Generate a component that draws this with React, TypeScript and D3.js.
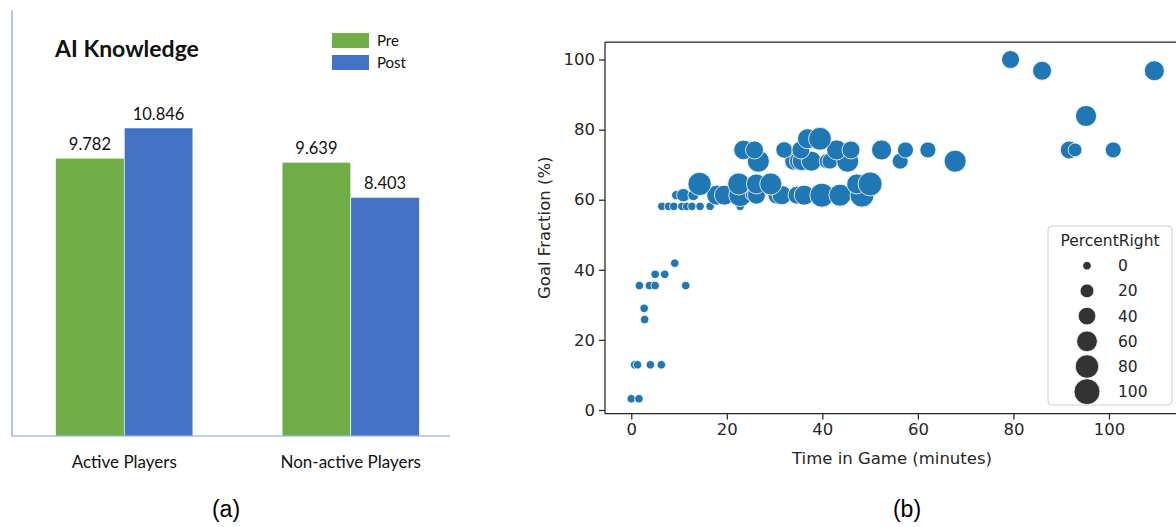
import * as d3 from "d3";
import { useEffect, useRef } from "react";

// panel (a) - bar chart
const groups = ["Active Players", "Non-active Players"];
const phases = ["Pre", "Post"];
const preScores = [9.782, 9.639];
const postScores = [10.846, 8.403];
const phaseColors = ["#70AD47", "#4472C4"];

// panel (b) - scatter, one entry per player
const timeInGame = [
  0, 1.6, 0.7, 1.3, 4.0, 6.3, 2.7, 2.8, 1.7, 3.8, 5.0, 11.4, 5.0, 7.0, 9.1,
  6.4, 7.8, 8.9, 10.6, 11.6, 12.7, 14.4, 16.5, 22.8,
  9.4, 10.9, 13.0, 17.9, 19.5, 22.8, 24.9, 26.2, 30.5, 31.5, 34.7, 35.2, 36.2, 39.9, 43.7, 48.3,
  14.3, 22.5, 26.2, 29.2, 47.2, 50.0,
  26.6, 34.0, 35.0, 35.7, 37.7, 40.9, 41.6, 45.3, 56.3, 67.8,
  23.5, 25.8, 32.0, 35.5, 43.0, 46.0, 52.4, 57.4, 62.1, 91.7, 92.9, 100.9,
  36.9, 39.5, 95.2, 86.0, 109.5, 79.4,
];
const goalFraction = [
  3.2, 3.2, 12.9, 12.9, 12.9, 12.9, 29.0, 25.8, 35.5, 35.5, 35.5, 35.5, 38.7, 38.7, 41.9,
  58.1, 58.1, 58.1, 58.1, 58.1, 58.1, 58.1, 58.1, 58.1,
  61.3, 61.3, 61.3, 61.3, 61.3, 61.3, 61.3, 61.3, 61.3, 61.3, 61.3, 61.3, 61.3, 61.3, 61.3, 61.3,
  64.5, 64.5, 64.5, 64.5, 64.5, 64.5,
  71.0, 71.0, 71.0, 71.0, 71.0, 71.0, 71.0, 71.0, 71.0, 71.0,
  74.2, 74.2, 74.2, 74.2, 74.2, 74.2, 74.2, 74.2, 74.2, 74.2, 74.2, 74.2,
  77.4, 77.4, 83.9, 96.8, 96.8, 100,
];
const percentRight = [
  0, 0, 0, 0, 0, 0, 0, 0, 0, 0, 0, 0, 0, 0, 0,
  0, 0, 0, 0, 0, 0, 0, 0, 0,
  2, 18, 8, 55, 55, 75, 4, 42, 42, 50, 42, 4, 55, 84, 69, 84,
  79, 69, 55, 69, 55, 84,
  69, 42, 42, 48, 55, 25, 30, 69, 31, 69,
  52, 42, 34, 42, 55, 42, 55, 31, 31, 42, 20, 31,
  55, 75, 62, 48, 55, 42,
];
const xTicks = [0, 20, 40, 60, 80, 100];
const yTicks = [0, 20, 40, 60, 80, 100];
const sizeLegend = [0, 20, 40, 60, 80, 100];

const W = 1176;
const H = 527;

const App = () => {
  const ref = useRef<SVGSVGElement | null>(null);

  useEffect(() => {
    const svg = d3.select(ref.current);
    svg.selectAll("*").remove();

    // ---------- (a) bars ----------
    const calibri = "Lato, 'Open Sans', sans-serif";
    const x0 = d3.scaleBand<string>().domain(groups).range([11, 464]);
    const x1 = d3
      .scaleBand<string>()
      .domain(phases)
      .range([0, x0.bandwidth()])
      .paddingInner(0)
      .paddingOuter(0.65);
    const yBar = d3.scaleLinear().domain([0, 15]).range([436, 10]);

    const a = svg.append("g");
    const rows = groups.map((g, i) => ({ group: g, values: [preScores[i], postScores[i]] }));

    const grp = a
      .selectAll("g.grp")
      .data(rows)
      .enter()
      .append("g")
      .attr("transform", (d) => `translate(${x0(d.group)},0)`);

    grp
      .selectAll("rect")
      .data((d) => d.values.map((v, j) => ({ phase: phases[j], v, j })))
      .enter()
      .append("rect")
      .attr("x", (d) => x1(d.phase)!)
      .attr("y", (d) => yBar(d.v))
      .attr("width", x1.bandwidth())
      .attr("height", (d) => yBar(0) - yBar(d.v))
      .style("fill", (d) => phaseColors[d.j])
      .style("stroke", "#ffffff")
      .style("stroke-width", 0.6);

    grp
      .selectAll("text")
      .data((d) => d.values.map((v, j) => ({ phase: phases[j], v })))
      .enter()
      .append("text")
      .attr("x", (d) => x1(d.phase)! + x1.bandwidth() / 2)
      .attr("y", (d) => yBar(d.v) - 8)
      .attr("text-anchor", "middle")
      .style("font-family", calibri)
      .style("font-size", "16.5px")
      .style("fill", "#111")
      .text((d) => d.v.toFixed(3));

    // axis lines
    a.append("line")
      .attr("x1", 12).attr("x2", 12)
      .attr("y1", yBar(15)).attr("y2", yBar(0))
      .style("stroke", "#7d9fdc").style("stroke-width", 1.2);
    a.append("line")
      .attr("x1", 12).attr("x2", 450)
      .attr("y1", yBar(0)).attr("y2", yBar(0))
      .style("stroke", "#7d9fdc").style("stroke-width", 1.2);

    a.selectAll("text.cat")
      .data(groups)
      .enter()
      .append("text")
      .attr("class", "cat")
      .attr("x", (d) => x0(d)! + x0.bandwidth() / 2)
      .attr("y", 468)
      .attr("text-anchor", "middle")
      .style("font-family", calibri)
      .style("font-size", "17px")
      .style("fill", "#111")
      .text((d) => d);

    a.append("text")
      .attr("x", 55)
      .attr("y", 57)
      .style("font-family", calibri)
      .style("font-weight", "bold")
      .style("font-size", "23px")
      .style("fill", "#111")
      .text("AI Knowledge");

    // legend
    phases.forEach((p, i) => {
      a.append("rect")
        .attr("x", 332).attr("y", 33 + i * 22)
        .attr("width", 37).attr("height", 15)
        .style("fill", phaseColors[i]);
      a.append("text")
        .attr("x", 377).attr("y", 46 + i * 22)
        .style("font-family", calibri)
        .style("font-size", "15px")
        .style("fill", "#111")
        .text(p);
    });

    a.append("text")
      .attr("x", 226).attr("y", 517)
      .attr("text-anchor", "middle")
      .style("font-family", "'Liberation Sans', Arial, sans-serif")
      .style("font-size", "23px")
      .text("(a)");

    // ---------- (b) scatter ----------
    const dejavu = "'DejaVu Sans', sans-serif";
    const ink = "#262626";
    const xs = d3.scaleLinear().domain([-5.5, 115.5]).range([605, 1183]);
    const ys = d3.scaleLinear().domain([-1, 105]).range([413.5, 42]);
    const area = d3.scaleLinear().domain([0, 100]).range([18, 168]);
    const rad = (v: number) => Math.sqrt(area(v));

    const b = svg.append("g");
    const pts = timeInGame.map((t, i) => ({ t, g: goalFraction[i], p: percentRight[i] }));

    b.selectAll("circle.pt")
      .data(pts)
      .enter()
      .append("circle")
      .attr("class", "pt")
      .attr("cx", (d) => xs(d.t))
      .attr("cy", (d) => ys(d.g))
      .attr("r", (d) => rad(d.p))
      .style("fill", "#1f77b4")
      .style("stroke", "#ffffff")
      .style("stroke-width", 0.8);

    // spines
    const [xl, xr] = xs.range();
    const [yb, yt] = ys.range();
    b.append("path")
      .attr("d", `M${xl},${yt}H${xr}M${xl},${yt}V${yb}H${xr}`)
      .style("fill", "none")
      .style("stroke", ink)
      .style("stroke-width", 1.25);

    const xAxis = d3.axisBottom(xs).tickValues(xTicks).tickSize(6).tickPadding(4);
    const gx = b.append("g").attr("transform", `translate(0,${yb})`).call(xAxis);
    const yAxis = d3.axisLeft(ys).tickValues(yTicks).tickSize(6).tickPadding(4);
    const gy = b.append("g").attr("transform", `translate(${xl},0)`).call(yAxis);
    [gx, gy].forEach((g) => {
      g.select(".domain").remove();
      g.selectAll("line").style("stroke", ink).style("stroke-width", 1.25);
      g.selectAll("text")
        .style("font-family", dejavu)
        .style("font-size", "16.5px")
        .style("fill", ink);
    });

    b.append("text")
      .attr("x", (xl + xs(115.5)) / 2 - 2)
      .attr("y", 464)
      .attr("text-anchor", "middle")
      .style("font-family", dejavu)
      .style("font-size", "16.5px")
      .style("fill", ink)
      .text("Time in Game (minutes)");

    b.append("text")
      .attr("transform", `translate(550,${(yb + yt) / 2}) rotate(-90)`)
      .attr("text-anchor", "middle")
      .style("font-family", dejavu)
      .style("font-size", "16.5px")
      .style("fill", ink)
      .text("Goal Fraction (%)");

    // size legend
    const lg = b.append("g");
    lg.append("rect")
      .attr("x", 1048).attr("y", 226)
      .attr("width", 124).attr("height", 179)
      .attr("rx", 4)
      .style("fill", "#ffffff").style("fill-opacity", 0.8)
      .style("stroke", "#d0d0d0").style("stroke-width", 1);
    lg.append("text")
      .attr("x", 1110).attr("y", 246)
      .attr("text-anchor", "middle")
      .style("font-family", dejavu)
      .style("font-size", "15.5px")
      .style("fill", ink)
      .text("PercentRight");
    const item = lg
      .selectAll("g.item")
      .data(sizeLegend)
      .enter()
      .append("g")
      .attr("transform", (d, i) => `translate(1087,${265.7 + i * 25.2})`);
    item.append("circle")
      .attr("r", (d) => rad(d))
      .style("fill", "#333333")
      .style("stroke", "#ffffff")
      .style("stroke-width", 0.8);
    item.append("text")
      .attr("x", 31).attr("y", 5.5)
      .style("font-family", dejavu)
      .style("font-size", "15.5px")
      .style("fill", ink)
      .text((d) => String(d));

    b.append("text")
      .attr("x", 907).attr("y", 517)
      .attr("text-anchor", "middle")
      .style("font-family", "'Liberation Sans', Arial, sans-serif")
      .style("font-size", "23px")
      .text("(b)");
  }, []);

  return (
    <div style={{ position: "absolute", left: 0, top: 0 }}>
      <svg ref={ref} width={W} height={H} style={{ display: "block", background: "#fff" }} />
    </div>
  );
};

export default App;
